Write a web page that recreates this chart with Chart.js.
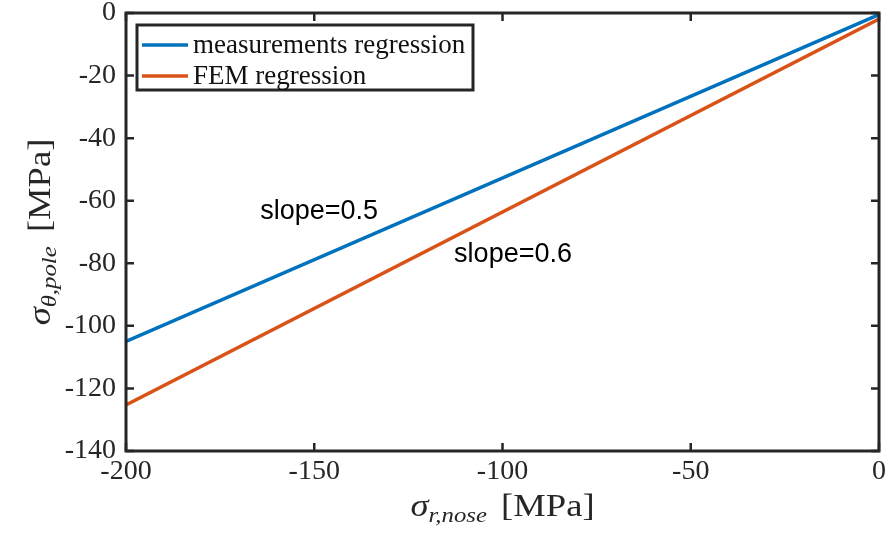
<!DOCTYPE html>
<html>
<head>
<meta charset="utf-8">
<script src="https://cdn.jsdelivr.net/npm/chart.js@4.4.1/dist/chart.umd.min.js"></script>
<style>
  html, body { margin: 0; padding: 0; background: #fff; }
  #grafico { display: block; }
</style>
</head>
<body>
<canvas id="grafico" width="894" height="537"></canvas>
<script>
// Dados
var serieNomes = ['measurements regression', 'FEM regression'];
var medicoesX = [-200, 0];
var medicoesY = [-105, -0.5];
var femX = [-200, 0];
var femY = [-125.3, -1.9];

// Ticks dos eixos
var ticksX = [-200, -150, -100, -50, 0];
var ticksY = [-140, -120, -100, -80, -60, -40, -20, 0];

// Textos das inclinações (posição em coordenadas de dados)
var inclinacaoTextos = ['slope=0.5', 'slope=0.6'];
var inclinacaoX = [-148.7, -97.2];
var inclinacaoY = [-65.7, -79.5];

var corAzul = '#0072BD';
var corLaranja = '#D95319';
var corEixo = '#262626';
var fonteSerif = '"Liberation Serif", "Times New Roman", serif';

function pontos(xs, ys) {
    return xs.map(function(x, i) { return { x: x, y: ys[i] }; });
}

// Plugin para a moldura com ticks para dentro, legenda, textos e títulos dos eixos
var extras = {
    id: 'extras',
    afterDatasetsDraw: function(chart) {
        var ctx = chart.ctx;
        var a = chart.chartArea;
        var sx = chart.scales.x, sy = chart.scales.y;
        var tam = 8;
        ctx.save();
        ctx.strokeStyle = corEixo;
        ctx.lineWidth = 3;
        ctx.strokeRect(a.left, a.top, a.right - a.left, a.bottom - a.top);
        ctx.lineWidth = 2.5;
        ctx.beginPath();
        ticksX.forEach(function(v) {
            var px = sx.getPixelForValue(v);
            ctx.moveTo(px, a.bottom); ctx.lineTo(px, a.bottom - tam);
            ctx.moveTo(px, a.top); ctx.lineTo(px, a.top + tam);
        });
        ticksY.forEach(function(v) {
            var py = sy.getPixelForValue(v);
            ctx.moveTo(a.left, py); ctx.lineTo(a.left + tam, py);
            ctx.moveTo(a.right, py); ctx.lineTo(a.right - tam, py);
        });
        ctx.stroke();

        // Textos slope=...
        ctx.fillStyle = '#000';
        ctx.font = '27px "Liberation Sans", Arial, sans-serif';
        ctx.textAlign = 'center';
        ctx.textBaseline = 'alphabetic';
        inclinacaoTextos.forEach(function(t, i) {
            ctx.fillText(t, sx.getPixelForValue(inclinacaoX[i]), sy.getPixelForValue(inclinacaoY[i]));
        });

        // Legenda
        var lx = 137, ly = 25, lw = 336, lh = 65;
        ctx.fillStyle = '#fff';
        ctx.fillRect(lx, ly, lw, lh);
        ctx.lineWidth = 3;
        ctx.strokeStyle = corEixo;
        ctx.strokeRect(lx, ly, lw, lh);
        var cores = [corAzul, corLaranja];
        var linhasY = [45, 76];
        ctx.font = '27px ' + fonteSerif;
        ctx.textAlign = 'left';
        ctx.textBaseline = 'middle';
        serieNomes.forEach(function(nome, i) {
            ctx.strokeStyle = cores[i];
            ctx.lineWidth = 3.5;
            ctx.beginPath();
            ctx.moveTo(142, linhasY[i]);
            ctx.lineTo(188, linhasY[i]);
            ctx.stroke();
            ctx.fillStyle = '#111';
            ctx.fillText(nome, 193, linhasY[i] + 1);
        });
        ctx.restore();

        // Títulos dos eixos com subscrito
        desenhaTitulo(ctx, 'σ', 'r,nose', '[MPa]', (a.left + a.right) / 2, 516, 0);
        desenhaTitulo(ctx, 'σ', 'θ,pole', '[MPa]', 50, (a.top + a.bottom) / 2, -Math.PI / 2);
    }
};

function desenhaTitulo(ctx, simbolo, sub, unidade, cx, cy, rot) {
    var fSimb = 'italic 31px ' + fonteSerif;
    var fSub = 'italic 21px ' + fonteSerif;
    var fUni = '31px ' + fonteSerif;
    var esticar = 1.18;
    ctx.save();
    ctx.font = fSimb; var w1 = ctx.measureText(simbolo).width;
    ctx.font = fSub; var w2 = ctx.measureText(sub).width;
    ctx.font = fUni; var w3 = ctx.measureText(unidade).width;
    var gap = 12;
    var total = w1 + w2 + gap + w3;
    ctx.translate(cx, cy);
    ctx.rotate(rot);
    ctx.scale(esticar, 1);
    ctx.fillStyle = corEixo;
    ctx.textAlign = 'left';
    ctx.textBaseline = 'alphabetic';
    var x = -total / 2;
    ctx.font = fSimb; ctx.fillText(simbolo, x, 0); x += w1;
    ctx.font = fSub; ctx.fillText(sub, x, 6); x += w2 + gap;
    ctx.font = fUni; ctx.fillText(unidade, x, 0);
    ctx.restore();
}

var ctx = document.getElementById('grafico').getContext('2d');

var myChart = new Chart(ctx, {
    type: 'scatter',
    data: {
        datasets: [{
            label: serieNomes[0],
            data: pontos(medicoesX, medicoesY),
            showLine: true,
            borderColor: corAzul,
            borderWidth: 3.5,
            pointRadius: 0
        }, {
            label: serieNomes[1],
            data: pontos(femX, femY),
            showLine: true,
            borderColor: corLaranja,
            borderWidth: 3.5,
            pointRadius: 0
        }]
    },
    options: {
        responsive: false,
        devicePixelRatio: 1,
        animation: false,
        layout: { padding: { left: 0, right: 15, top: 13, bottom: 0 } },
        plugins: {
            legend: { display: false },
            tooltip: { enabled: false }
        },
        scales: {
            x: {
                type: 'linear',
                min: -200,
                max: 0,
                afterBuildTicks: function(scale) {
                    scale.ticks = ticksX.map(function(v) { return { value: v }; });
                },
                afterFit: function(scale) {
                    scale.height = 86;
                    scale.paddingLeft = 0;
                    scale.paddingRight = 0;
                },
                grid: { display: false, drawTicks: false },
                border: { display: false },
                ticks: {
                    color: corEixo,
                    padding: 4,
                    maxRotation: 0,
                    font: { family: fonteSerif, size: 28 }
                }
            },
            y: {
                type: 'linear',
                min: -140,
                max: 0,
                afterBuildTicks: function(scale) {
                    scale.ticks = ticksY.map(function(v) { return { value: v }; });
                },
                afterFit: function(scale) {
                    scale.width = 126;
                    scale.paddingTop = 0;
                    scale.paddingBottom = 0;
                },
                grid: { display: false, drawTicks: false },
                border: { display: false },
                ticks: {
                    color: corEixo,
                    padding: 10,
                    font: { family: fonteSerif, size: 28 }
                }
            }
        }
    },
    plugins: [extras]
});
</script>
</body>
</html>
